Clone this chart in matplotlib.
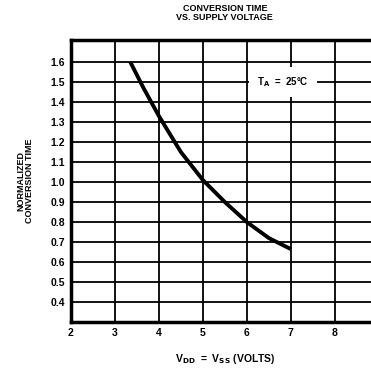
import matplotlib.pyplot as plt

plt.rcParams['font.family'] = ['Liberation Sans', 'DejaVu Sans']
plt.rcParams['font.weight'] = 'bold'
plt.rcParams['axes.titleweight'] = 'bold'
plt.rcParams['axes.labelweight'] = 'bold'

# curve
vdd = [3.35, 3.65, 4.0, 4.5, 5.0, 5.5, 6.0, 6.5, 7.0]
conv_time = [1.6, 1.47, 1.33, 1.15, 1.01, 0.9, 0.8, 0.72, 0.665]

xticks = [2, 3, 4, 5, 6, 7, 8]
yticks = [0.4, 0.5, 0.6, 0.7, 0.8, 0.9, 1.0, 1.1, 1.2, 1.3, 1.4, 1.5, 1.6]

fig = plt.figure(figsize=(3.71, 3.69), dpi=100)
ax = fig.add_axes([0.191, 0.127, 0.830, 0.765])

ax.set_xlim(2, 9)
ax.set_ylim(0.3, 1.71)
ax.set_xticks(xticks)
ax.set_yticks(yticks)
ax.set_yticklabels(['%.1f' % v for v in yticks])
ax.tick_params(length=0, labelsize=7.5, pad=4)
for lab in ax.get_xticklabels() + ax.get_yticklabels():
    lab.set_fontweight('bold')
ax.grid(True, color='black', linewidth=1.3)
ax.set_axisbelow(True)
for s in ax.spines.values():
    s.set_linewidth(2.5)

ax.plot(vdd, conv_time, color='black', linewidth=2.8, solid_capstyle='butt')

ax.text(6.82, 1.5, 'T$_\\mathbf{A}$  =  25°C', fontsize=7, fontweight='bold',
        ha='center', va='center',
        bbox=dict(facecolor='white', edgecolor='none', pad=6))

ax.set_xlabel('V$_\\mathbf{DD}$  =  V$_\\mathbf{SS}$ (VOLTS)', fontsize=7.5, labelpad=10)
ax.set_ylabel('NORMALIZED\nCONVERSION TIME', fontsize=6.5, labelpad=12, linespacing=1.0)
ax.set_title('CONVERSION TIME\nVS. SUPPLY VOLTAGE', fontsize=6.5, pad=14, linespacing=1.1)

fig.savefig('out.png', dpi=100)
